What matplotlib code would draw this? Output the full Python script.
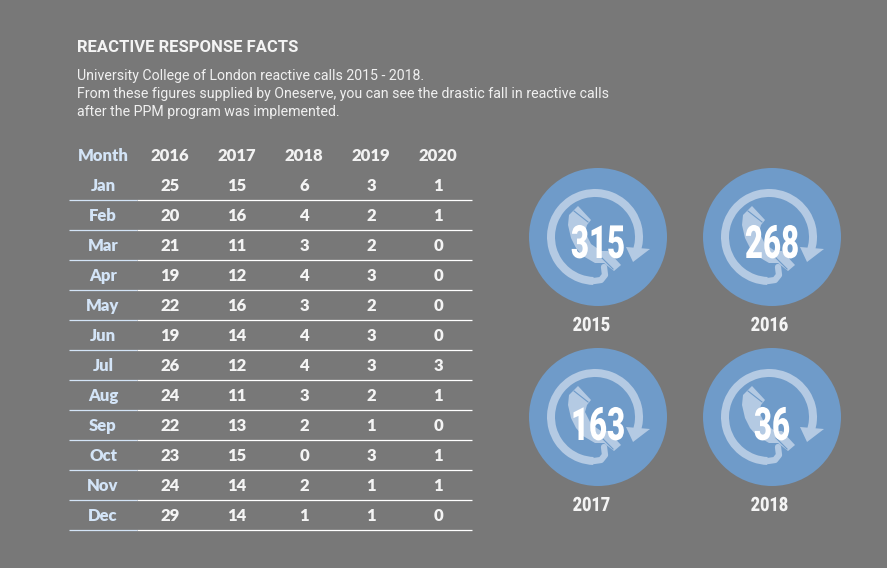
import matplotlib
matplotlib.use('Agg')
import matplotlib.pyplot as plt
from matplotlib.patches import Circle, Polygon, Wedge
from matplotlib.patheffects import AbstractPathEffect
from matplotlib.transforms import Affine2D

# Colours
BG = '#787878'
BLUE = '#6f9bc9'
PALE = '#b4cae3'
MONTH_COL = '#d3e4f7'

title = 'REACTIVE RESPONSE FACTS'
intro = ['University College of London reactive calls 2015 - 2018.',
         'From these figures supplied by Oneserve, you can see the drastic fall in reactive calls',
         'after the PPM program was implemented.']

months = ['Jan', 'Feb', 'Mar', 'Apr', 'May', 'Jun', 'Jul', 'Aug', 'Sep', 'Oct', 'Nov', 'Dec']
years = ['2016', '2017', '2018', '2019', '2020']
calls_2016 = [25, 20, 21, 19, 22, 19, 26, 24, 22, 23, 24, 29]
calls_2017 = [15, 16, 11, 12, 16, 14, 12, 11, 13, 15, 14, 14]
calls_2018 = [6, 4, 3, 4, 3, 4, 4, 3, 2, 0, 2, 1]
calls_2019 = [3, 2, 2, 3, 2, 3, 3, 2, 1, 3, 1, 1]
calls_2020 = [1, 1, 0, 0, 0, 0, 3, 1, 0, 1, 1, 0]

badge_years = ['2015', '2016', '2017', '2018']
badge_totals = [315, 268, 163, 36]

FONT_TEXT = ['Roboto', 'DejaVu Sans']
FONT_TABLE = ['Lato', 'DejaVu Sans']


class SqueezeX(AbstractPathEffect):
    # no condensed font installed, so narrow the glyphs around their centre
    def __init__(self, centre_px, factor):
        super().__init__()
        self.centre_px = centre_px
        self.factor = factor

    def draw_path(self, renderer, gc, tpath, affine, rgbFace=None):
        squeeze = Affine2D().translate(-self.centre_px, 0).scale(self.factor, 1).translate(self.centre_px, 0)
        renderer.draw_path(gc, tpath, affine + squeeze, rgbFace)


def draw_table(ax):
    col_x = [170, 237, 304, 371, 438]
    ax.text(103, 155.5, 'Month', color=MONTH_COL, fontsize=12, fontweight='heavy',
            family=FONT_TABLE, ha='center', va='center')
    for x, year in zip(col_x, years):
        ax.text(x, 155.5, year, color='#f2f2f2', fontsize=12, fontweight='heavy',
                family=FONT_TABLE, ha='center', va='center')

    columns = [calls_2016, calls_2017, calls_2018, calls_2019, calls_2020]
    for i, month in enumerate(months):
        y = 185.5 + i * 30
        ax.text(103, y, month, color=MONTH_COL, fontsize=12, fontweight='heavy',
                family=FONT_TABLE, ha='center', va='center')
        for x, col in zip(col_x, columns):
            ax.text(x, y, str(col[i]), color='#f4f4f4', fontsize=12, fontweight='heavy',
                    family=FONT_TABLE, ha='center', va='center')
        # rule is tinted under the month column
        ax.plot([137, 472], [y + 15, y + 15], color='white', lw=0.9, solid_capstyle='butt')
        ax.plot([69, 137], [y + 15, y + 15], color=MONTH_COL, lw=0.9, solid_capstyle='butt')


def draw_phone(ax, cx, cy):
    # y axis is flipped, so wedge angles run clockwise on screen
    ax.add_patch(Wedge((cx - 3, cy), 48, 92, 382, width=8, color=PALE, lw=0, zorder=3))
    ax.add_patch(Polygon([(cx + 28, cy + 10), (cx + 52, cy + 12), (cx + 35, cy + 25)],
                         closed=True, color=PALE, lw=0, zorder=3))
    # handset outline, earpiece round to mouthpiece
    offsets = [(-20, -31), (-7, -17), (-11, -12), (-13, -5), (-7, 7), (3, 14), (10, 14),
               (23, 28), (16, 34), (6, 26), (-3, 26), (-15, 19), (-22, 11), (-27, 1),
               (-30, -12), (-29, -22)]
    ax.add_patch(Polygon([(cx + dx, cy + dy) for dx, dy in offsets], closed=True,
                         color=PALE, lw=0, zorder=3))
    # joints of ear and mouth pieces
    ax.plot([cx - 24, cx - 10], [cy - 26, cy - 15], color=BLUE, lw=0.8, zorder=3)
    ax.plot([cx + 4, cx + 15], [cy + 21, cy + 32], color=BLUE, lw=0.8, zorder=3)
    # cord joining handset to the ring
    ax.plot([cx + 6, cx + 7, cx + 3, cx - 4], [cy + 30, cy + 38, cy + 43, cy + 44],
            color=PALE, lw=4.5, solid_capstyle='round', zorder=3)


def draw_badges(ax):
    centres = [(598, 237), (772, 237), (598, 417), (772, 417)]
    number_drop = [21, 21, 23, 23]
    year_shift = [-6.5, -2.5, -6.5, -2.5]
    for (cx, cy), year, total, drop, shift in zip(centres, badge_years, badge_totals, number_drop, year_shift):
        ax.add_patch(Circle((cx, cy), 69, color=BLUE, lw=0, zorder=2))
        draw_phone(ax, cx, cy)
        px = ax.transData.transform((cx, cy))[0]
        ax.text(cx, cy + drop, str(total), color='white', fontsize=33, fontweight='black',
                family=FONT_TEXT, ha='center', va='baseline', zorder=5,
                path_effects=[SqueezeX(px, 0.68)])
        ax.text(cx + shift, cy + 94, year, color='#f4f4f4', fontsize=14.2, fontweight='black',
                family=FONT_TEXT, ha='center', va='baseline', zorder=5,
                path_effects=[SqueezeX(px + shift, 0.82)])


def main():
    fig = plt.figure(figsize=(8.8701, 5.6801), dpi=100, facecolor=BG)
    ax = fig.add_axes([0, 0, 1, 1])
    ax.set_xlim(0, 887)
    ax.set_ylim(568, 0)
    ax.axis('off')

    ax.text(77, 47.5, title, color='#f4f4f4', fontsize=12, fontweight='bold',
            family=FONT_TEXT, ha='left', va='center')
    for i, line in enumerate(intro):
        ax.text(77, 76 + i * 18, line, color='#f0f0f0', fontsize=10.15,
                family=FONT_TEXT, ha='left', va='center')

    draw_table(ax)
    draw_badges(ax)

    fig.savefig('out.png', dpi=100, facecolor=BG)


if __name__ == "__main__":
    main()
